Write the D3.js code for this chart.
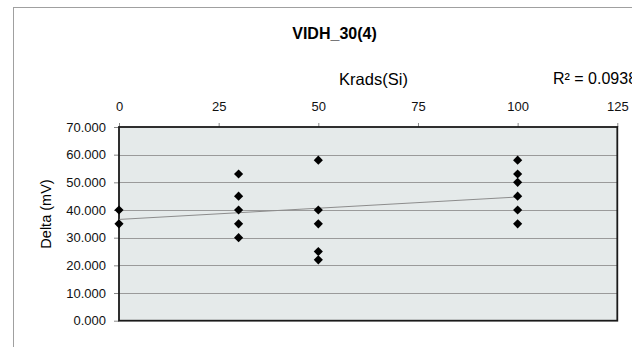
<!DOCTYPE html>
<html><head><meta charset="utf-8">
<script src="https://cdn.jsdelivr.net/npm/d3@7"></script>
<style>body{margin:0;background:#fff;}svg{display:block;font-family:"Liberation Sans",Arial,sans-serif;}</style>
</head><body>
<svg id="c" width="632" height="347"></svg>
<script>
const xValues = [0,0,30,30,30,30,30,50,50,50,50,50,100,100,100,100,100,100];
const yValues = [40,35,53,45,40,35,30,58,40,35,25,22,58,53,50,45,40,35];
const xTicks = [0,25,50,75,100,125];
const yTicks = [0,10,20,30,40,50,60,70];
const trendX = [0,100];
const trendY = [36.6,44.7];
const titleText = "VIDH_30(4)";
const xTitle = "Krads(Si)";
const yTitle = "Delta (mV)";
const r2Text = "R² = 0.0938";

const svg = d3.select("#c");
const L=119, R=617.3, T=127, B=320.7;
const x = d3.scaleLinear().domain([0,125]).range([L,R]);
const y = d3.scaleLinear().domain([0,70]).range([B,T]);

// outer chart border
svg.append("rect").attr("x",13.5).attr("y",7.5).attr("width",640).attr("height",360)
  .attr("fill","#fff").attr("stroke","#a0a0a0").attr("stroke-width",1);

// plot area
svg.append("rect").attr("x",L).attr("y",T).attr("width",R-L).attr("height",B-T).attr("fill","#e5eaea");

// gridlines
svg.append("g").selectAll("line").data(yTicks.filter(d=>d>0&&d<70)).join("line")
  .attr("x1",L).attr("x2",R).attr("y1",d=>Math.round(y(d))+0.5).attr("y2",d=>Math.round(y(d))+0.5)
  .attr("stroke","#9a9a9a").attr("stroke-width",1);

// y axis
const ya = svg.append("g").attr("transform",`translate(${L},0)`)
  .call(d3.axisLeft(y).tickValues(yTicks).tickFormat(d3.format(".3f")).tickSize(5).tickPadding(8));
ya.select(".domain").remove();
ya.selectAll("line").attr("stroke","#888");
ya.selectAll("text").attr("font-size",13).attr("fill","#111").attr("font-family","Liberation Sans, Arial, sans-serif");

// x axis on top
const xa = svg.append("g").attr("transform",`translate(0,${T})`)
  .call(d3.axisTop(x).tickValues(xTicks).tickSize(4).tickPadding(12));
xa.select(".domain").remove();
xa.selectAll("line").attr("stroke","#888");
xa.selectAll("text").attr("font-size",13).attr("fill","#111").attr("font-family","Liberation Sans, Arial, sans-serif");

// plot border
svg.append("rect").attr("x",L).attr("y",T).attr("width",R-L).attr("height",B-T)
  .attr("fill","none").attr("stroke","#1a1a1a").attr("stroke-width",1.8);

// trendline
svg.append("line").attr("x1",x(trendX[0])).attr("y1",y(trendY[0]))
  .attr("x2",x(trendX[1])).attr("y2",y(trendY[1])).attr("stroke","#8c8c8c").attr("stroke-width",1);

// points
const sym = d3.symbol().type(d3.symbolSquare).size(42);
svg.append("g").selectAll("path").data(xValues.map((v,i)=>[v,yValues[i]])).join("path")
  .attr("d",sym).attr("transform",d=>`translate(${x(d[0])},${y(d[1])}) rotate(45)`)
  .attr("fill","#000");

// titles
svg.append("text").attr("x",334.5).attr("y",39).attr("text-anchor","middle")
  .attr("font-size",16).attr("font-weight","bold").attr("fill","#000").text(titleText);
svg.append("text").attr("x",373.5).attr("y",85).attr("text-anchor","middle")
  .attr("font-size",16.5).attr("fill","#000").text(xTitle);
svg.append("text").attr("x",553).attr("y",84).attr("text-anchor","start")
  .attr("font-size",16).attr("fill","#000").text(r2Text);
svg.append("text").attr("transform","translate(51,214) rotate(-90)").attr("text-anchor","middle")
  .attr("font-size",14.5).attr("fill","#000").text(yTitle);
</script>
</body></html>
